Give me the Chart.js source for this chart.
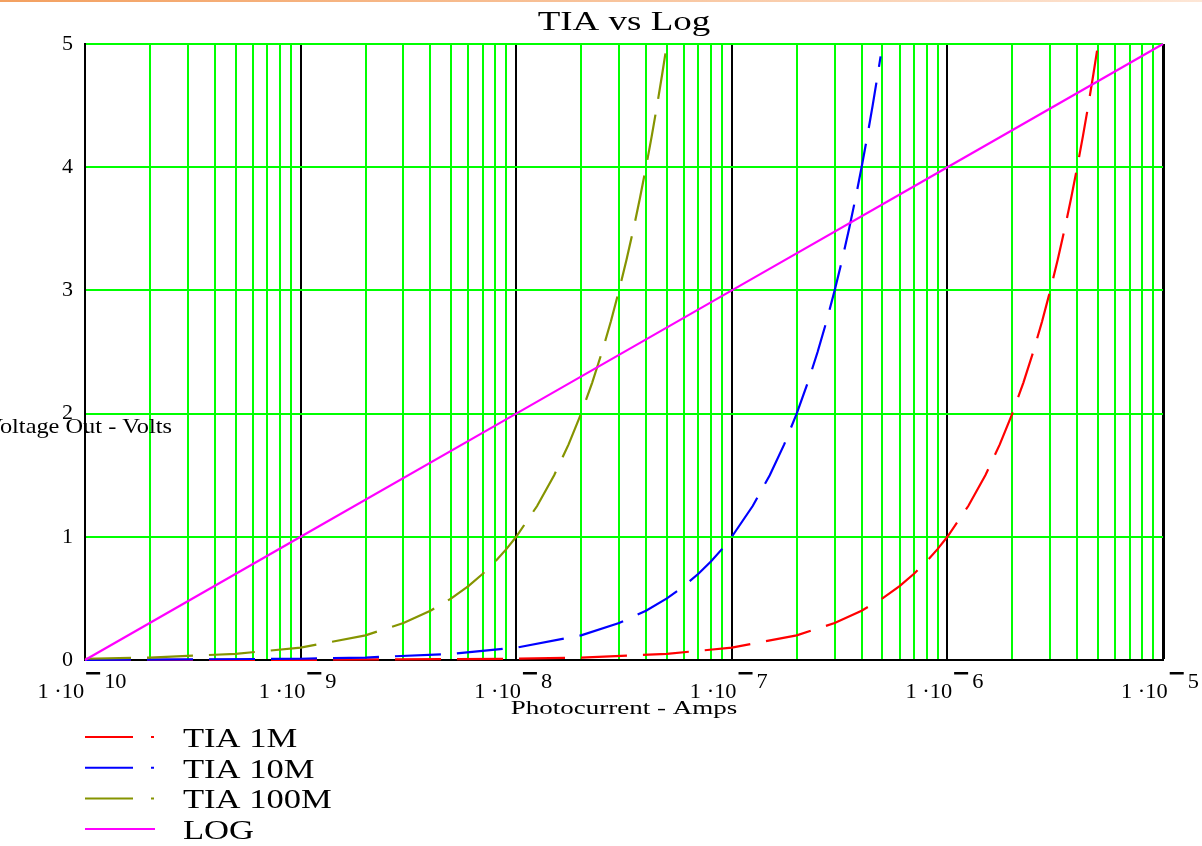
<!DOCTYPE html>
<html>
<head>
<meta charset="utf-8">
<script src="https://cdn.jsdelivr.net/npm/chart.js@4.4.1/dist/chart.umd.min.js"></script>
<style>
  html, body { margin: 0; padding: 0; background: #fff; }
  #wrap { position: relative; width: 1202px; height: 846px; overflow: hidden; }
  #topRule { position: absolute; left: 0; top: 0; width: 1202px; height: 2px; background: linear-gradient(to right, #f3a060, #fde6d6); }
</style>
</head>
<body>
<div id="wrap">
  <canvas id="tiaChart" width="1202" height="846"></canvas>
  <div id="topRule"></div>
</div>
<script>
// TIA vs Log - photocurrent sweep, Mathcad style plot

// Photocurrent (A) and output (V)
const tia1mCurrent = [1e-10, 1e-9, 1e-8, 2e-8, 5e-8, 1e-7, 2e-7, 3e-7, 4e-7, 5e-7, 6e-7, 7e-7, 8e-7, 9e-7,
  1e-6, 1.25e-6, 1.5e-6, 1.75e-6, 2e-6, 2.25e-6, 2.5e-6, 2.75e-6, 3e-6, 3.25e-6, 3.5e-6, 3.75e-6, 4e-6, 4.25e-6, 4.5e-6, 4.75e-6, 5e-6];
const tia1mVolts = [0.0001, 0.001, 0.01, 0.02, 0.05, 0.1, 0.2, 0.3, 0.4, 0.5, 0.6, 0.7, 0.8, 0.9,
  1.0, 1.25, 1.5, 1.75, 2.0, 2.25, 2.5, 2.75, 3.0, 3.25, 3.5, 3.75, 4.0, 4.25, 4.5, 4.75, 5.0];

const tia10mCurrent = [1e-10, 1e-9, 2e-9, 5e-9, 1e-8, 2e-8, 3e-8, 4e-8, 5e-8, 6e-8, 7e-8, 8e-8, 9e-8,
  1e-7, 1.25e-7, 1.5e-7, 1.75e-7, 2e-7, 2.25e-7, 2.5e-7, 2.75e-7, 3e-7, 3.25e-7, 3.5e-7, 3.75e-7, 4e-7, 4.25e-7, 4.5e-7, 4.75e-7, 4.9e-7];
const tia10mVolts = [0.001, 0.01, 0.02, 0.05, 0.1, 0.2, 0.3, 0.4, 0.5, 0.6, 0.7, 0.8, 0.9,
  1.0, 1.25, 1.5, 1.75, 2.0, 2.25, 2.5, 2.75, 3.0, 3.25, 3.5, 3.75, 4.0, 4.25, 4.5, 4.75, 4.9];

const tia100mCurrent = [1e-10, 2e-10, 5e-10, 1e-9, 2e-9, 3e-9, 4e-9, 5e-9, 6e-9, 7e-9, 8e-9, 9e-9,
  1e-8, 1.25e-8, 1.5e-8, 1.75e-8, 2e-8, 2.25e-8, 2.5e-8, 2.75e-8, 3e-8, 3.25e-8, 3.5e-8, 3.75e-8, 4e-8, 4.25e-8, 4.5e-8, 4.75e-8, 5e-8];
const tia100mVolts = [0.01, 0.02, 0.05, 0.1, 0.2, 0.3, 0.4, 0.5, 0.6, 0.7, 0.8, 0.9,
  1.0, 1.25, 1.5, 1.75, 2.0, 2.25, 2.5, 2.75, 3.0, 3.25, 3.5, 3.75, 4.0, 4.25, 4.5, 4.75, 5.0];

const logCurrent = [1e-10, 1e-9, 1e-8, 1e-7, 1e-6, 1e-5];
const logVolts = [0, 1, 2, 3, 4, 5];

const seriesLabels = ['TIA 1M', 'TIA 10M', 'TIA 100M', 'LOG'];
const seriesColors = ['#ff0000', '#0000ff', '#859400', '#ff00ff'];

// axis ticks
const xExponents = [-10, -9, -8, -7, -6, -5];
const gridMultipliers = [1, 2, 3, 4, 5, 6, 7, 8, 9];
const yTickValues = [0, 1, 2, 3, 4, 5];

const SERIF = '"Liberation Serif", "Times New Roman", serif';
const GRID_GREEN = '#00ff00';
const DASH = [46, 16];

function toPoints(xs, ys) {
  return xs.map((x, i) => ({ x, y: ys[i] }));
}

function isDecade(v) {
  const l = Math.log10(v);
  return Math.abs(l - Math.round(l)) < 1e-9;
}

// Mathcad output looks horizontally stretched, so text is drawn with an x scale
function drawStretched(ctx, text, x, y, sx, align) {
  const w = ctx.measureText(text).width * sx;
  let left = x;
  if (align === 'center') left = x - w / 2;
  else if (align === 'right') left = x - w;
  ctx.save();
  ctx.translate(left, y);
  ctx.scale(sx, 1);
  ctx.textAlign = 'left';
  ctx.fillText(text, 0, 0);
  ctx.restore();
  return w;
}

const xGridValues = [];
xExponents.slice(0, -1).forEach(e => gridMultipliers.forEach(m => xGridValues.push(m * Math.pow(10, e))));
xGridValues.push(Math.pow(10, xExponents[xExponents.length - 1]));

const mathcadText = {
  id: 'mathcadText',
  afterDraw(chart) {
    const ctx = chart.ctx;
    const area = chart.chartArea;
    const xs = chart.scales.x;
    ctx.save();
    ctx.fillStyle = '#000';
    ctx.textBaseline = 'alphabetic';

    // title
    ctx.font = '27px ' + SERIF;
    drawStretched(ctx, 'TIA vs Log', (area.left + area.right) / 2, 30, 1.37, 'center');

    // x tick labels: 1·10 with raised negative exponent
    xExponents.forEach(e => {
      const px = xs.getPixelForValue(Math.pow(10, e));
      ctx.font = '20px ' + SERIF;
      const base = '1 \u00b710';
      const sx = 1.12;
      const wBase = ctx.measureText(base).width * sx;
      const expTxt = String(-e);
      const wExp = ctx.measureText(expTxt).width * sx;
      const total = wBase + 2 + 14 + 4 + wExp;
      const start = px - 3 - total / 2;
      drawStretched(ctx, base, start, 698, sx, 'left');
      ctx.fillRect(start + wBase + 2, 672, 14, 2.5);
      drawStretched(ctx, expTxt, start + wBase + 20, 688, sx, 'left');
    });

    // axis titles
    ctx.font = '19px ' + SERIF;
    drawStretched(ctx, 'Photocurrent - Amps', (area.left + area.right) / 2, 714, 1.42, 'center');
    ctx.font = '21px ' + SERIF;
    drawStretched(ctx, 'Voltage Out - Volts', 172, 433, 1.16, 'right');

    // legend under the plot
    chart.data.datasets.forEach((ds, i) => {
      const ly = 737 + i * 30.7;
      ctx.beginPath();
      ctx.strokeStyle = ds.borderColor;
      ctx.lineWidth = 2;
      const dashed = ds.borderDash && ds.borderDash.length;
      ctx.setLineDash(dashed ? [48, 18] : []);
      ctx.moveTo(85, ly);
      ctx.lineTo(dashed ? 154 : 155, ly);
      ctx.stroke();
      ctx.setLineDash([]);
      ctx.font = '27px ' + SERIF;
      drawStretched(ctx, ds.label, 183, ly + 10, 1.28, 'left');
    });
    ctx.restore();
  }
};

const datasets = [
  { label: seriesLabels[0], data: toPoints(tia1mCurrent, tia1mVolts), borderColor: seriesColors[0], borderDash: DASH, order: 4 },
  { label: seriesLabels[1], data: toPoints(tia10mCurrent, tia10mVolts), borderColor: seriesColors[1], borderDash: DASH, order: 3 },
  { label: seriesLabels[2], data: toPoints(tia100mCurrent, tia100mVolts), borderColor: seriesColors[2], borderDash: DASH, order: 2 },
  { label: seriesLabels[3], data: toPoints(logCurrent, logVolts), borderColor: seriesColors[3], order: 1 }
].map(d => Object.assign({ borderWidth: 2.2, pointRadius: 0, fill: false, tension: 0, clip: 4 }, d));

new Chart(document.getElementById('tiaChart'), {
  type: 'line',
  data: { datasets },
  plugins: [mathcadText],
  options: {
    responsive: false,
    animation: false,
    devicePixelRatio: 1,
    layout: { padding: { top: 44, right: 39, left: 0, bottom: 0 } },
    plugins: { legend: { display: false }, title: { display: false }, tooltip: { enabled: false } },
    scales: {
      x: {
        type: 'logarithmic',
        min: xGridValues[0],
        max: xGridValues[xGridValues.length - 1],
        afterBuildTicks: s => { s.ticks = xGridValues.map(v => ({ value: v })); },
        afterFit: s => { s.height = 186; },
        ticks: { display: false, autoSkip: false },
        grid: {
          drawTicks: false,
          color: c => (c.tick && isDecade(c.tick.value)) ? '#000' : GRID_GREEN,
          lineWidth: c => (c.tick && c.index === xGridValues.length - 1) ? 3 : 2
        },
        border: { display: true, color: '#000', width: 2 }
      },
      y: {
        min: 0,
        max: 5,
        afterBuildTicks: s => { s.ticks = yTickValues.map(v => ({ value: v })); },
        afterFit: s => { s.width = 85; },
        ticks: { color: '#000', padding: 12, font: { family: SERIF, size: 22 } },
        grid: { drawTicks: false, color: GRID_GREEN, lineWidth: 2 },
        border: { display: true, color: '#000', width: 2 }
      }
    }
  }
});
</script>
</body>
</html>
